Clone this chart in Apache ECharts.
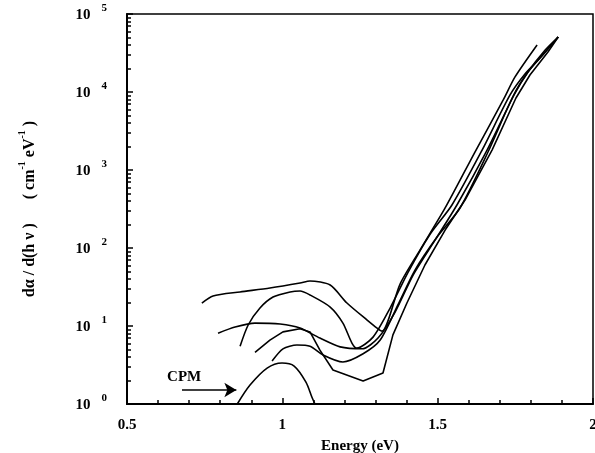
<!DOCTYPE html>
<html>
<head>
<meta charset="utf-8">
<script src="https://cdn.jsdelivr.net/npm/echarts@6/dist/echarts.min.js"></script>
<style>
  html, body { margin: 0; padding: 0; background: #fff; }
  #chart { width: 595px; height: 453px; }
</style>
</head>
<body>
<div id="chart"></div>
<script>
// values: [energy (eV), dα/d(hν)]
var cpmCurve = [[0.855, 1.0], [0.896, 1.75], [0.951, 2.89], [0.999, 3.36], [1.038, 3.07], [1.076, 1.91], [1.095, 1.23], [1.105, 1.0]];
var curveA = [[0.741, 19.7], [0.777, 24.3], [0.864, 27.3], [0.960, 30.7], [1.057, 35.6], [1.089, 37.8], [1.154, 33.5], [1.208, 19.7], [1.273, 11.9], [1.305, 9.4], [1.321, 8.6], [1.379, 34.5], [1.443, 94], [1.524, 326], [1.620, 1700], [1.711, 7900], [1.749, 15600], [1.820, 40100]];
var curveB = [[0.864, 5.5], [0.890, 10.3], [0.928, 17.0], [0.970, 23.5], [1.025, 27.3], [1.057, 28.1], [1.089, 25.0], [1.154, 17.5], [1.195, 10.9], [1.224, 6.05], [1.240, 5.2], [1.292, 7.2], [1.347, 17.0], [1.405, 49], [1.476, 151], [1.546, 356], [1.643, 1800], [1.733, 9160], [1.781, 17000], [1.830, 27300], [1.888, 50700]];
var curveC = [[0.793, 8.1], [0.848, 9.7], [0.912, 10.9], [0.993, 10.6], [1.057, 9.4], [1.121, 7.0], [1.186, 5.4], [1.257, 5.1], [1.308, 7.0], [1.363, 15.1], [1.421, 45], [1.492, 127], [1.562, 356], [1.659, 1800], [1.746, 9160], [1.791, 18000], [1.846, 32600], [1.888, 50700]];
var curveD = [[0.912, 4.6], [0.960, 6.6], [1.002, 8.4], [1.057, 9.2], [1.089, 8.4], [1.121, 4.9], [1.163, 2.73], [1.260, 1.97], [1.324, 2.50], [1.356, 7.7], [1.401, 19.7], [1.459, 60.5], [1.524, 170], [1.588, 412], [1.675, 1800], [1.752, 8380], [1.797, 16500], [1.855, 32600], [1.888, 50700]];
var curveE = [[0.967, 3.56], [1.002, 5.1], [1.047, 5.7], [1.089, 5.5], [1.131, 4.25], [1.195, 3.45], [1.260, 4.4], [1.315, 6.6], [1.372, 18.6], [1.427, 52], [1.498, 138], [1.572, 326], [1.662, 1700], [1.743, 8890], [1.788, 17500], [1.846, 34500], [1.888, 50700]];

var decadeTicks = [1, 10, 100, 1000, 10000, 100000];
var minorTicks = [];
for (var d = 1; d < 100000; d *= 10) {
    for (var k = 2; k <= 9; k++) {
        minorTicks.push(k * d);
    }
}
var cpmArrow = [[0.677, 1.51], [0.852, 1.51]];
var cpmLabelAt = [0.684, 2.22];

var font = '"Liberation Serif", "Times New Roman", serif';
var ink = '#000';

function curve(data, smooth) {
    return {
        type: 'line',
        data: data,
        showSymbol: false,
        smooth: smooth,
        clip: true,
        lineStyle: { color: ink, width: 1.6 },
        silent: true
    };
}

var cpmSeries = curve(cpmCurve, 0.3);
// arrow pointing at the CPM curve
cpmSeries.markLine = {
    silent: true,
    animation: false,
    label: { show: false },
    lineStyle: { color: ink, width: 1.6, type: 'solid' },
    data: [[
        { coord: cpmArrow[0], symbol: 'none' },
        { coord: cpmArrow[1], symbol: 'arrow', symbolSize: [11, 12] }
    ]]
};
cpmSeries.markPoint = {
    silent: true,
    animation: false,
    symbol: 'circle',
    symbolSize: 1,
    itemStyle: { color: 'rgba(0,0,0,0)' },
    label: {
        show: true,
        formatter: 'CPM',
        position: 'inside',
        color: ink,
        fontFamily: font,
        fontWeight: 'bold',
        fontSize: 15
    },
    data: [{ coord: cpmLabelAt }]
};

var myChart = echarts.init(document.getElementById('chart'));
myChart.setOption({
    animation: false,
    backgroundColor: '#fff',
    grid: {
        left: 127,
        right: 2,
        top: 14,
        bottom: 49,
        outerBoundsMode: 'none',
        containLabel: false,
        show: true,
        borderColor: ink,
        borderWidth: 1.5
    },
    xAxis: {
        type: 'value',
        min: 0.5,
        max: 2,
        interval: 0.5,
        name: 'Energy (eV)',
        nameLocation: 'middle',
        nameGap: 35,
        nameTextStyle: { color: ink, fontFamily: font, fontWeight: 'bold', fontSize: 15 },
        axisLine: { show: true, lineStyle: { color: ink, width: 2 } },
        axisTick: { show: true, inside: true, length: 6, lineStyle: { color: ink, width: 1.5 } },
        minorTick: { show: true, splitNumber: 5, length: 4, lineStyle: { color: ink, width: 1.5 } },
        splitLine: { show: false },
        axisLabel: { color: ink, fontFamily: font, fontWeight: 'bold', fontSize: 15, margin: 14 }
    },
    yAxis: [{
        type: 'log',
        logBase: 10,
        min: 1,
        max: 100000,
        position: 'left',
        name: '{n|dα / d(h ν )      ( cm}{sup|-1}{n| eV}{sup|-1}{n| )}',
        nameLocation: 'middle',
        nameRotate: 90,
        nameGap: 92,
        nameTextStyle: {
            color: ink,
            fontFamily: font,
            fontWeight: 'bold',
            fontSize: 16,
            rich: {
                n: { color: ink, fontFamily: font, fontWeight: 'bold', fontSize: 16, lineHeight: 16, padding: [5, 0, 0, 0] },
                sup: { color: ink, fontFamily: font, fontWeight: 'bold', fontSize: 10, lineHeight: 10, padding: [0, 0, 10, 0] }
            }
        },
        axisLine: { show: true, lineStyle: { color: ink, width: 2 } },
        axisTick: { show: true, inside: true, length: 6, customValues: decadeTicks, lineStyle: { color: ink, width: 1.5 } },
        splitLine: { show: false },
        axisLabel: {
            customValues: decadeTicks,
            margin: 20,
            formatter: function (v) {
                return '{b|10}{s|' + Math.round(Math.log10(v)) + '}';
            },
            rich: {
                b: { color: ink, fontFamily: font, fontWeight: 'bold', fontSize: 15, lineHeight: 15, padding: [2, 0, 0, 0] },
                s: { color: ink, fontFamily: font, fontWeight: 'bold', fontSize: 11, lineHeight: 11, padding: [0, 0, 11, 11] }
            }
        }
    }, {
        type: 'log',
        logBase: 10,
        min: 1,
        max: 100000,
        position: 'left',
        offset: 0,
        axisLine: { show: false },
        axisTick: { show: true, inside: true, length: 4, customValues: minorTicks, lineStyle: { color: ink, width: 1.5 } },
        axisLabel: { show: false },
        splitLine: { show: false }
    }],
    series: [
        cpmSeries,
        curve(curveA, 0.25),
        curve(curveB, 0.25),
        curve(curveC, 0.25),
        curve(curveD, false),
        curve(curveE, 0.25)
    ]
});
</script>
</body>
</html>
